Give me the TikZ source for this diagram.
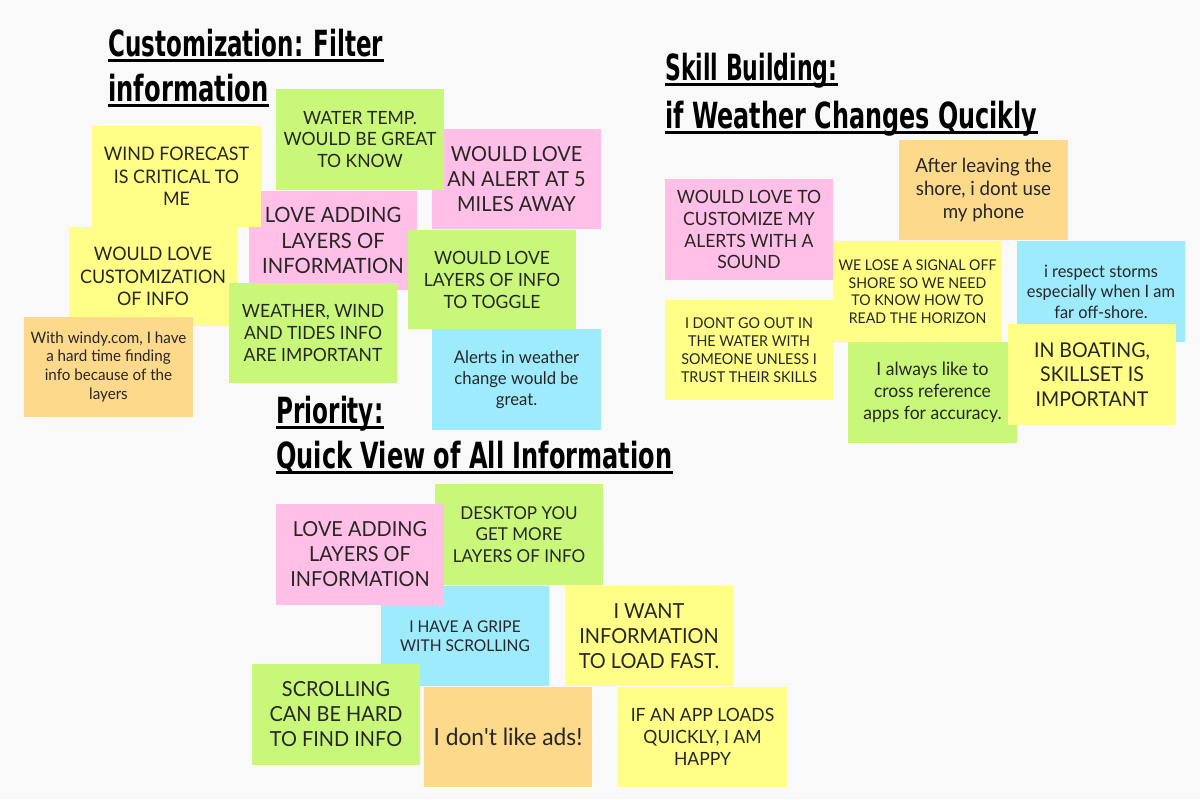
\documentclass[tikz,border=0pt]{standalone}
\usepackage{fontspec}
\usepackage{graphicx}
\setmainfont{Lato}[FakeStretch=0.96]
\newfontfamily\headfont{DejaVu Sans Condensed}
\newcommand\straightquote{{\addfontfeatures{Ligatures=TeXOff}'}}

\definecolor{bgpaper}{HTML}{F9F9F9}
\definecolor{noteyellow}{HTML}{FFFF88}
\definecolor{notegreen}{HTML}{C9F77A}
\definecolor{notepink}{HTML}{FFBFE6}
\definecolor{noteblue}{HTML}{9EEBFD}
\definecolor{noteorange}{HTML}{FDD98C}
\definecolor{inkgray}{HTML}{262626}

\newlength\pxu
\setlength\pxu{0.02cm}

% sticky note: name, left, top, right, bottom, colour, font size, line skip, text
\newcommand\stickynote[9]{%
  \pgfmathsetmacro\notew{(#4-#2)*0.02}%
  \pgfmathsetmacro\noteh{(#5-#3)*0.02}%
  \node[sticky, fill=#6, minimum width=\notew cm, minimum height=\noteh cm,
        font=\fontsize{#7pt}{#8pt}\selectfont] (#1) at ({(#2+#4)/2},{(#3+#5)/2}) {#9};}

% underlined heading line: name, left, baseline, width, text
\newcommand\headline[5]{%
  \node[heading] (#1) at (#2,#3) {\resizebox{#4\pxu}{\height}{#5}};
  \draw[headrule] ([yshift=-0.08cm]#1.base west) -- ([yshift=-0.08cm]#1.base east);}

\begin{document}
\begin{tikzpicture}[x=0.02cm,y=-0.02cm,
  sticky/.style={rectangle, inner sep=0pt, text=inkgray, align=center},
  heading/.style={inner sep=0pt, anchor=base west, text=black,
    font=\headfont\bfseries\fontsize{20.5pt}{24pt}\selectfont},
  headrule/.style={line width=1.7pt, draw=black}]

\fill[bgpaper] (0,0) rectangle (1200,799);
\useasboundingbox (0,0) rectangle (1200,799);

% ---- Customization: Filter information
\headline{custA}{108}{56}{275}{Customization: Filter}
\headline{custB}{108}{101}{160}{information}

\stickynote{alertfive}{432}{129}{601}{229}{notepink}{11.8}{14.2}{WOULD LOVE\\AN ALERT AT 5\\MILES AWAY}
\stickynote{watertemp}{276}{89}{444}{190}{notegreen}{10.4}{12.5}{WATER TEMP.\\WOULD BE GREAT\\TO KNOW}
\stickynote{layersA}{249}{191}{417}{290}{notepink}{12}{14.5}{LOVE ADDING\\LAYERS OF\\INFORMATION}
\stickynote{windfc}{92}{126}{261}{227}{noteyellow}{10.6}{12.8}{WIND FORECAST\\IS CRITICAL TO\\ME}
\stickynote{custinfo}{69}{227}{237}{326}{noteyellow}{10.6}{12.8}{WOULD LOVE\\CUSTOMIZATION\\OF INFO}
\stickynote{windy}{24}{317}{193}{417}{noteorange}{9}{10.8}{With windy.com, I have\\a hard time finding\\info because of the\\layers}
\stickynote{tides}{229}{283}{397}{383}{notegreen}{10.4}{12.5}{WEATHER, WIND\\AND TIDES INFO\\ARE IMPORTANT}
\stickynote{toggle}{408}{230}{576}{329}{notegreen}{10.4}{12.5}{WOULD LOVE\\LAYERS OF INFO\\TO TOGGLE}
\stickynote{alertchange}{432}{329}{601}{430}{noteblue}{9.9}{11.9}{Alerts in weather\\change would be\\great.}

% ---- Skill Building
\headline{skillA}{665}{80}{172}{Skill Building:}
\headline{skillB}{665}{128}{372}{if Weather Changes Qucikly}

\stickynote{sound}{665}{179}{833}{280}{notepink}{10.4}{12.5}{WOULD LOVE TO\\CUSTOMIZE MY\\ALERTS WITH A\\SOUND}
\stickynote{trust}{665}{300}{833}{400}{noteyellow}{8.5}{10.2}{I DONT GO OUT IN\\THE WATER WITH\\SOMEONE UNLESS I\\TRUST THEIR SKILLS}
\stickynote{phone}{899}{140}{1068}{240}{noteorange}{11.1}{13.3}{After leaving the\\shore, i dont use\\my phone}
\stickynote{horizon}{833}{241}{1002}{342}{noteyellow}{8.4}{10}{WE LOSE A SIGNAL OFF\\SHORE SO WE NEED\\TO KNOW HOW TO\\READ THE HORIZON}
\stickynote{storms}{1017}{241}{1185}{342}{noteblue}{9.7}{11.6}{i respect storms\\especially when I am\\far off-shore.}
\stickynote{crossref}{848}{342}{1017}{443}{notegreen}{10.4}{12.5}{I always like to\\cross reference\\apps for accuracy.}
\stickynote{boating}{1008}{324}{1176}{425}{noteyellow}{11.6}{13.9}{IN BOATING,\\SKILLSET IS\\IMPORTANT}

% ---- Priority: Quick View of All Information
\headline{prioA}{276}{423}{107}{Priority:}
\headline{prioB}{276}{468}{396}{Quick View of All Information}

\stickynote{desktop}{435}{484}{603}{585}{notegreen}{10.1}{12.2}{DESKTOP YOU\\GET MORE\\LAYERS OF INFO}
\stickynote{gripe}{381}{586}{549}{686}{noteblue}{9.2}{11}{I HAVE A GRIPE\\WITH SCROLLING}
\stickynote{layersB}{276}{504}{444}{605}{notepink}{11.8}{14.2}{LOVE ADDING\\LAYERS OF\\INFORMATION}
\stickynote{loadfast}{565}{586}{733}{686}{noteyellow}{11.8}{14.2}{I WANT\\INFORMATION\\TO LOAD FAST.}
\stickynote{scrolling}{252}{664}{420}{765}{notegreen}{11.8}{14.2}{SCROLLING\\CAN BE HARD\\TO FIND INFO}
\stickynote{ads}{424}{687}{592}{787}{noteorange}{13.5}{16}{I don\straightquote t like ads!}
\stickynote{happy}{618}{687}{787}{787}{noteyellow}{10.4}{12.5}{IF AN APP LOADS\\QUICKLY, I AM\\HAPPY}

\end{tikzpicture}
\end{document}
